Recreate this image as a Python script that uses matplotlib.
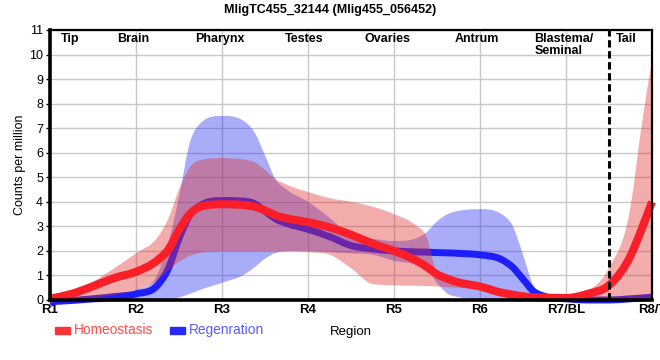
import matplotlib
matplotlib.use('Agg')
import matplotlib.pyplot as plt
from matplotlib.path import Path
from matplotlib.patches import PathPatch, Rectangle
import numpy as np

# ---------------- data ----------------
title = "MligTC455_32144 (Mlig455_056452)"
regions = ['R1', 'R2', 'R3', 'R4', 'R5', 'R6', 'R7/BL', 'R8/T']
sections = ['Tip', 'Brain', 'Pharynx', 'Testes', 'Ovaries', 'Antrum', 'Blastema/\nSeminal', 'Tail']
section_x = [0.23, 0.965, 1.98, 2.95, 3.92, 4.96, 5.63, 6.70]
y_ticks = [0, 1, 2, 3, 4, 5, 6, 7, 8, 9, 10, 11]

# sample positions along the region axis (0 = R1 ... 7 = R8/T)
sample_x = [0, 0.25, 0.5, 0.75, 1, 1.25, 1.375, 1.5, 1.625, 1.75, 2, 2.25, 2.375, 2.5, 2.625,
            2.75, 3, 3.25, 3.5, 3.75, 4, 4.25, 4.375, 4.5, 4.625, 4.75, 5, 5.25, 5.375, 5.5,
            5.625, 5.75, 6, 6.25, 6.5, 6.75, 6.875, 7]

homeo_mean = [0.05, 0.25, 0.56, 0.9, 1.15, 1.62, 2.05, 2.85, 3.5, 3.8, 3.9, 3.87, 3.8, 3.65, 3.45,
              3.33, 3.17, 2.96, 2.66, 2.3, 2.0, 1.62, 1.36, 1.05, 0.86, 0.72, 0.55, 0.3, 0.22, 0.15,
              0.11, 0.1, 0.08, 0.25, 0.6, 1.8, 2.85, 4.0]
homeo_hi = [0.12, 0.35, 0.75, 1.3, 1.9, 2.55, 3.3, 4.5, 5.4, 5.7, 5.78, 5.72, 5.62, 5.3, 4.92,
            4.7, 4.4, 4.15, 4.0, 3.8, 3.5, 3.05, 2.6, 1.1, 0.85, 0.78, 0.65, 0.42, 0.34, 0.25,
            0.17, 0.12, 0.1, 0.35, 1.3, 3.8, 7.0, 9.8]
homeo_lo = [0.0, 0.02, 0.08, 0.2, 0.41, 0.8, 1.2, 1.55, 1.8, 1.92, 2.0, 2.0, 2.0, 2.0, 2.0,
            2.0, 1.95, 1.85, 1.3, 0.65, 0.6, 0.58, 0.57, 0.55, 0.52, 0.5, 0.4, 0.15, 0.06, 0.0,
            -0.03, -0.05, -0.05, -0.05, 0.0, 0.0, 0.0, 0.0]

regen_mean = [-0.07, -0.02, 0.05, 0.14, 0.25, 0.6, 1.27, 2.5, 3.45, 3.85, 4.05, 4.03, 3.93, 3.62, 3.3,
              3.12, 2.88, 2.58, 2.22, 2.08, 2.0, 1.96, 1.95, 1.93, 1.92, 1.9, 1.84, 1.65, 1.35, 0.85,
              0.35, 0.15, 0.05, 0.0, 0.0, 0.05, 0.08, 0.12]
regen_hi = [0.0, 0.02, 0.08, 0.2, 0.41, 1.05, 2.3, 4.2, 6.4, 7.2, 7.5, 7.3, 6.85, 5.9, 4.9,
            4.5, 4.0, 3.35, 2.65, 2.5, 2.4, 2.5, 2.75, 3.2, 3.5, 3.63, 3.7, 3.5, 3.05, 1.85,
            0.55, 0.22, 0.1, 0.05, 0.05, 0.1, 0.15, 0.2]
regen_lo = [-0.14, -0.12, -0.1, -0.08, -0.07, -0.04, 0.02, 0.1, 0.25, 0.42, 0.7, 1.02, 1.32, 1.68, 1.92,
            1.98, 2.0, 1.95, 1.9, 1.85, 1.6, 1.45, 1.3, 0.7, 0.25, 0.12, 0.0, -0.05, -0.06, -0.07,
            -0.07, -0.07, -0.07, -0.07, -0.07, -0.05, -0.03, 0.0]

legend_labels = ['Homeostasis', 'Regenration']

# ---------------- helpers ----------------
def tangents(x, y):
    h = np.diff(x)
    d = np.diff(y) / h
    n = len(x)
    m = np.zeros(n)
    m[0], m[-1] = d[0], d[-1]
    for i in range(1, n - 1):
        if d[i - 1] * d[i] <= 0:
            m[i] = 0.0
        else:
            c = (d[i - 1] * h[i] + d[i] * h[i - 1]) / (h[i - 1] + h[i])
            lim = 3 * min(abs(d[i - 1]), abs(d[i]))
            m[i] = np.sign(c) * min(abs(c), lim)
    return m


def curve(x, y):
    """Smooth monotone cubic through the points, as Bezier path segments."""
    x = np.asarray(x, float)
    y = np.asarray(y, float)
    m = tangents(x, y)
    verts = [(x[0], y[0])]
    codes = [Path.MOVETO]
    for i in range(len(x) - 1):
        h = x[i + 1] - x[i]
        verts += [(x[i] + h / 3, y[i] + m[i] * h / 3),
                  (x[i + 1] - h / 3, y[i + 1] - m[i + 1] * h / 3),
                  (x[i + 1], y[i + 1])]
        codes += [Path.CURVE4] * 3
    return verts, codes


def band(ax, x, lo, hi, color, alpha, z):
    v1, c1 = curve(x, hi)
    v2, c2 = curve(x[::-1], lo[::-1])
    c2 = [Path.LINETO] + c2[1:]
    verts = v1 + v2 + [v1[0]]
    codes = c1 + c2 + [Path.CLOSEPOLY]
    ax.add_patch(PathPatch(Path(verts, codes), facecolor=color, edgecolor='none',
                           alpha=alpha, zorder=z, clip_on=False))


def line(ax, x, y, color, lw, z):
    v, c = curve(x, y)
    ax.add_patch(PathPatch(Path(v, c), facecolor='none', edgecolor=color, lw=lw,
                           capstyle='butt', joinstyle='round', zorder=z, clip_on=False))

# ---------------- figure ----------------
plt.rcParams['font.family'] = ['Liberation Sans', 'DejaVu Sans']
narrow = ['Liberation Sans Narrow', 'Liberation Sans', 'DejaVu Sans']

fig = plt.figure(figsize=(6.6, 3.6), dpi=100)
ax = fig.add_axes([50 / 660, 1 - 300 / 360, 602 / 660, 270 / 360])

ax.set_xlim(0, 7)
ax.set_ylim(0, 11)
ax.set_xticks(range(len(regions)))
ax.set_xticklabels(regions, fontweight='bold', fontsize=9.5, family=narrow)
ax.set_yticks(y_ticks)
ax.set_yticklabels([str(t) for t in y_ticks], fontsize=9)
ax.tick_params(axis='x', length=0, pad=3)
ax.tick_params(axis='y', length=3, width=1, pad=2)
ax.grid(True, color='#c8c8c8', lw=1)
ax.set_axisbelow(True)

for s in ['left', 'bottom']:
    ax.spines[s].set_linewidth(2.6)
for s in ['top', 'right']:
    ax.spines[s].set_linewidth(1.6)
for s in ax.spines.values():
    s.set_zorder(10)

xs = np.asarray(sample_x)
band(ax, xs, np.asarray(regen_lo), np.asarray(regen_hi), '#1e28f0', 0.38, 2)
line(ax, xs, regen_mean, '#1e1efa', 5.0, 3)
band(ax, xs, np.asarray(homeo_lo), np.asarray(homeo_hi), '#e03030', 0.4, 4)
line(ax, xs, homeo_mean, '#fa1e28', 5.8, 5)

ax.axvline(6.5, color='black', lw=2.2, ls=(0, (2.4, 1.2)), zorder=9)

for label, sx in zip(sections, section_x):
    if '\n' in label:
        ax.text(sx, 10.88, label, ha='left', va='top', fontsize=9, fontweight='bold',
                linespacing=1.0, zorder=11)
    else:
        ax.text(sx, 10.88, label, ha='center', va='top', fontsize=9, fontweight='bold', zorder=11)

fig.text(0.5, 1 - 10 / 360, title, ha='center', va='center', fontsize=9, fontweight='bold')
ax.set_ylabel('Counts per million', fontsize=9, labelpad=2)
fig.text(350.5 / 660, 1 - 331.5 / 360, 'Region', ha='center', va='center', fontsize=9.5, family=narrow)

# legend
fig.patches.append(Rectangle((55 / 660, 1 - 333.5 / 360), 15 / 660, 7 / 360,
                             transform=fig.transFigure, color='#ff3333', zorder=5))
fig.text(74 / 660, 1 - 330 / 360, legend_labels[0], ha='left', va='center', fontsize=9.9,
         family=narrow, color='#ff4a4a')
fig.patches.append(Rectangle((170 / 660, 1 - 333.5 / 360), 15 / 660, 7 / 360,
                             transform=fig.transFigure, color='#2828ff', zorder=5))
fig.text(189 / 660, 1 - 330 / 360, legend_labels[1], ha='left', va='center', fontsize=9.9,
         family=narrow, color='#5a5aff')

fig.savefig('out.png', dpi=100)
